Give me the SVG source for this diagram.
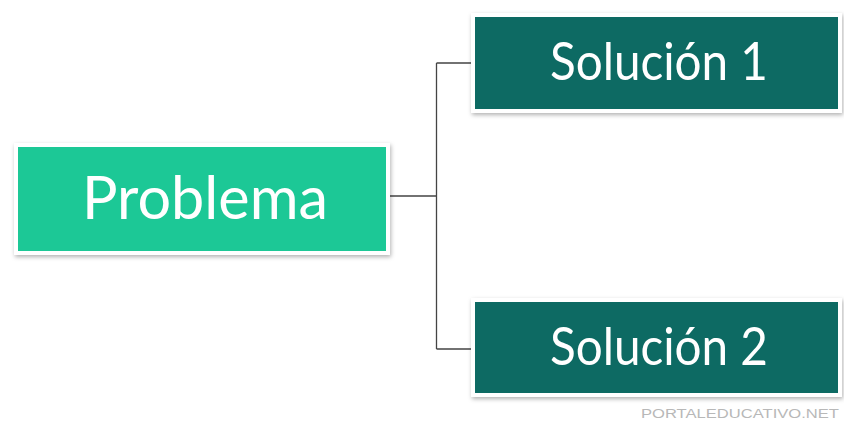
<svg xmlns="http://www.w3.org/2000/svg" width="844" height="430" viewBox="0 0 844 430">
<defs>
<filter id="sh" x="-10%" y="-20%" width="120%" height="150%">
<feDropShadow dx="1" dy="2" stdDeviation="2" flood-color="#000" flood-opacity="0.3"/>
</filter>
<style>
.box{stroke:#ffffff;stroke-width:4;filter:url(#sh)}
.p{fill:#1fc896}
.s{fill:#0b6b63}
.t{font-family:Lato,"Open Sans",sans-serif;fill:#ffffff;text-anchor:middle}
.c{fill:none;stroke:#444;stroke-width:1.3}
.w{font-family:"Liberation Sans",Arial,sans-serif;font-size:12px;fill:#b8b8b8}
</style>
</defs>
<rect width="844" height="430" fill="#ffffff"/>
<g id="connectors">
<path class="c" d="M388 196 H436.5 M436.5 63 V349 M436.5 63 H473 M436.5 349 H473"/>
</g>
<g id="problema">
<rect class="box p" x="16" y="145" width="372" height="108"/>
<text class="t" x="205" y="219" font-size="60" textLength="246" lengthAdjust="spacingAndGlyphs">Problema</text>
</g>
<g id="solucion1">
<rect class="box s" x="473" y="15" width="367" height="96"/>
<text class="t" x="659" y="80" font-size="52" textLength="218" lengthAdjust="spacingAndGlyphs">Solución 1</text>
</g>
<g id="solucion2">
<rect class="box s" x="473" y="300" width="367" height="95"/>
<text class="t" x="659" y="365" font-size="52" textLength="218" lengthAdjust="spacingAndGlyphs">Solución 2</text>
</g>
<text class="w" x="641" y="418" textLength="198" lengthAdjust="spacingAndGlyphs">PORTALEDUCATIVO.NET</text>
</svg>
